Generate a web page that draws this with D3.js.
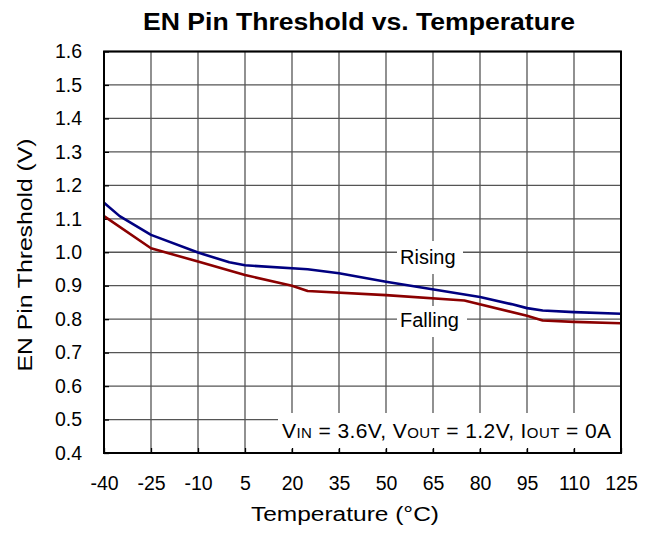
<!DOCTYPE html>
<html>
<head>
<meta charset="utf-8">
<script src="https://cdn.jsdelivr.net/npm/d3@7"></script>
<style>
  html, body { margin: 0; padding: 0; background: #fff; }
  svg { display: block; font-family: "Liberation Sans", Arial, sans-serif; }
</style>
</head>
<body>
<div id="chart"></div>
<script>
// ===== EN PIN THRESHOLD vs. TEMPERATURE =====

// ---- data ----
const xTicks = [-40, -25, -10, 5, 20, 35, 50, 65, 80, 95, 110, 125];
const yTicks = [0.4, 0.5, 0.6, 0.7, 0.8, 0.9, 1.0, 1.1, 1.2, 1.3, 1.4, 1.5, 1.6];

const risingTemp = [-40, -35, -25, -10, 0, 5, 25, 35, 50, 80, 90, 95, 100, 110, 125];
const risingV    = [1.148, 1.108, 1.052, 0.999, 0.970, 0.961, 0.949, 0.937, 0.912, 0.866, 0.845, 0.833, 0.826, 0.821, 0.816];

const fallingTemp = [-40, -25, -10, 5, 20, 25, 50, 75, 95, 100, 110, 125];
const fallingV    = [1.108, 1.012, 0.972, 0.932, 0.900, 0.884, 0.872, 0.856, 0.810, 0.796, 0.792, 0.788];

(function () {
    const width = 656, height = 534;
    const plot = { left: 104, right: 621, top: 51.5, bottom: 453 };
    const GRID = '#555';

    const svg = d3.select('#chart').append('svg')
        .attr('width', width)
        .attr('height', height);

    const x = d3.scaleLinear().domain([-40, 125]).range([plot.left, plot.right]);
    const y = d3.scaleLinear().domain([0.4, 1.6]).range([plot.bottom, plot.top]);

    // ---- 1. grid ----
    const grid = svg.append('g').attr('stroke', GRID).attr('stroke-width', 1.3);
    grid.selectAll('line.v').data(xTicks).enter().append('line')
        .attr('x1', function (d) { return x(d); }).attr('x2', function (d) { return x(d); })
        .attr('y1', plot.top).attr('y2', plot.bottom);
    grid.selectAll('line.h').data(yTicks).enter().append('line')
        .attr('x1', plot.left).attr('x2', plot.right)
        .attr('y1', function (d) { return y(d); }).attr('y2', function (d) { return y(d); });

    // ---- 2. white boxes behind in-plot labels ----
    svg.append('rect').attr('x', 397).attr('y', 241).attr('width', 66).attr('height', 33).attr('fill', '#fff');
    svg.append('rect').attr('x', 397).attr('y', 306).attr('width', 70).attr('height', 31).attr('fill', '#fff');
    svg.append('rect').attr('x', 278).attr('y', 413).attr('width', plot.right - 278).attr('height', 36).attr('fill', '#fff');

    // ---- 3. axes (ticks point inward) ----
    // plain hyphen for negatives, as in the reference (d3 defaults to U+2212)
    const xFmt = function (d) { return String(d); };
    const yFmt = d3.format('.1f');
    const xAxis = svg.append('g')
        .attr('transform', 'translate(0,' + plot.bottom + ')')
        .call(d3.axisBottom(x).tickValues(xTicks).tickSize(-5).tickPadding(23).tickFormat(xFmt));
    const yAxis = svg.append('g')
        .attr('transform', 'translate(' + plot.left + ',0)')
        .call(d3.axisLeft(y).tickValues(yTicks).tickSize(-5).tickPadding(22).tickFormat(yFmt));
    [xAxis, yAxis].forEach(function (g) {
        g.select('.domain').remove();
        g.selectAll('.tick line').attr('stroke', '#000').attr('stroke-width', 1.3);
        g.selectAll('.tick text')
            .attr('fill', '#000')
            .style('font-family', '"Liberation Sans", Arial, sans-serif')
            .style('font-size', '19.5px');
    });

    // ---- 4. curves ----
    const line = d3.line()
        .x(function (d) { return x(d[0]); })
        .y(function (d) { return y(d[1]); });

    svg.append('path')
        .datum(d3.zip(fallingTemp, fallingV))
        .attr('fill', 'none').attr('stroke', '#8b0000').attr('stroke-width', 2.6)
        .attr('stroke-linejoin', 'round')
        .attr('d', line);
    svg.append('path')
        .datum(d3.zip(risingTemp, risingV))
        .attr('fill', 'none').attr('stroke', '#000080').attr('stroke-width', 2.6)
        .attr('stroke-linejoin', 'round')
        .attr('d', line);

    // ---- 5. frame ----
    svg.append('rect')
        .attr('x', plot.left).attr('y', plot.top)
        .attr('width', plot.right - plot.left).attr('height', plot.bottom - plot.top)
        .attr('fill', 'none').attr('stroke', '#000').attr('stroke-width', 2);

    // ---- 6. text ----
    svg.append('text')
        .attr('x', 359).attr('y', 29.5)
        .attr('text-anchor', 'middle')
        .attr('font-size', 23).attr('font-weight', 700)
        .attr('textLength', 432).attr('lengthAdjust', 'spacingAndGlyphs')
        .text('EN Pin Threshold vs. Temperature');

    svg.append('text')
        .attr('x', 345).attr('y', 520.5)
        .attr('text-anchor', 'middle')
        .attr('font-size', 19.5)
        .attr('textLength', 188).attr('lengthAdjust', 'spacingAndGlyphs')
        .text('Temperature (\u00B0C)');

    svg.append('text')
        .attr('transform', 'translate(31.5,255) rotate(-90)')
        .attr('text-anchor', 'middle')
        .attr('font-size', 21)
        .attr('textLength', 233).attr('lengthAdjust', 'spacingAndGlyphs')
        .text('EN Pin Threshold (V)');

    svg.append('text').attr('x', 400).attr('y', 264).attr('font-size', 20).text('Rising');
    svg.append('text').attr('x', 400).attr('y', 326.5).attr('font-size', 20).text('Falling');

    // Conditions note, subscripts drawn smaller on the same baseline
    const note = svg.append('text')
        .attr('x', 282).attr('y', 438)
        .attr('font-size', 21)
        .attr('textLength', 329).attr('lengthAdjust', 'spacing');
    [['V', 21], ['IN', 15], [' = 3.6V, V', 21], ['OUT', 15], [' = 1.2V, I', 21], ['OUT', 15], [' = 0A', 21]]
        .forEach(function (p) {
            note.append('tspan').attr('font-size', p[1]).text(p[0]);
        });
})();
</script>
</body>
</html>
